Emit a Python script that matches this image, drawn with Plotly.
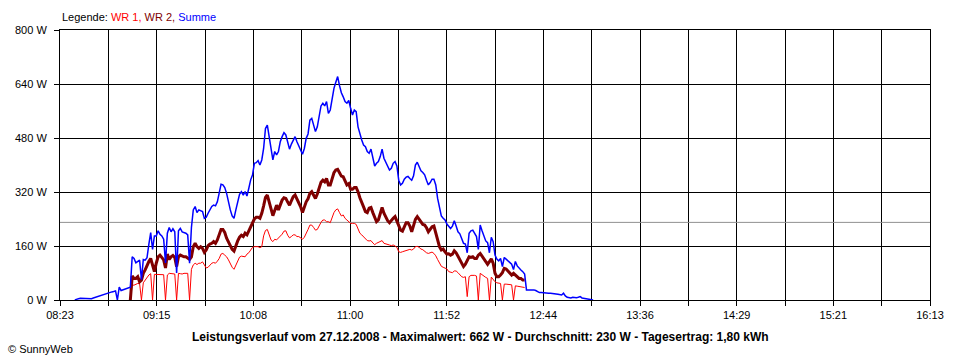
import pandas as pd
import plotly.graph_objects as go

DAY = "2008-12-27"

# Sample times (one reading per minute), 08:31 .. 13:11
times = [
    "08:31", "08:32", "08:33", "08:34", "08:35", "08:36", "08:37", "08:38", "08:39", "08:40",
    "08:41", "08:42", "08:43", "08:44", "08:45", "08:46", "08:47", "08:48", "08:49", "08:50",
    "08:51", "08:52", "08:53", "08:54", "08:55", "08:56", "08:57", "08:58", "08:59",
    "09:00", "09:01", "09:02", "09:03", "09:04", "09:05", "09:06", "09:07", "09:08", "09:09",
    "09:10", "09:11", "09:12", "09:13", "09:14", "09:15", "09:16", "09:17", "09:18", "09:19",
    "09:20", "09:21", "09:22", "09:23", "09:24", "09:25", "09:26", "09:27", "09:28", "09:29",
    "09:30", "09:31", "09:32", "09:33", "09:34", "09:35", "09:36", "09:37", "09:38", "09:39",
    "09:40", "09:41", "09:42", "09:43", "09:44", "09:45", "09:46", "09:47", "09:48", "09:49",
    "09:50", "09:51", "09:52", "09:53", "09:54", "09:55", "09:56", "09:57", "09:58", "09:59",
    "10:00", "10:01", "10:02", "10:03", "10:04", "10:05", "10:06", "10:07", "10:08", "10:09",
    "10:10", "10:11", "10:12", "10:13", "10:14", "10:15", "10:16", "10:17", "10:18", "10:19",
    "10:20", "10:21", "10:22", "10:23", "10:24", "10:25", "10:26", "10:27", "10:28", "10:29",
    "10:30", "10:31", "10:32", "10:33", "10:34", "10:35", "10:36", "10:37", "10:38", "10:39",
    "10:40", "10:41", "10:42", "10:43", "10:44", "10:45", "10:46", "10:47", "10:48", "10:49",
    "10:50", "10:51", "10:52", "10:53", "10:54", "10:55", "10:56", "10:57", "10:58", "10:59",
    "11:00", "11:01", "11:02", "11:03", "11:04", "11:05", "11:06", "11:07", "11:08", "11:09",
    "11:10", "11:11", "11:12", "11:13", "11:14", "11:15", "11:16", "11:17", "11:18", "11:19",
    "11:20", "11:21", "11:22", "11:23", "11:24", "11:25", "11:26", "11:27", "11:28", "11:29",
    "11:30", "11:31", "11:32", "11:33", "11:34", "11:35", "11:36", "11:37", "11:38", "11:39",
    "11:40", "11:41", "11:42", "11:43", "11:44", "11:45", "11:46", "11:47", "11:48", "11:49",
    "11:50", "11:51", "11:52", "11:53", "11:54", "11:55", "11:56", "11:57", "11:58", "11:59",
    "12:00", "12:01", "12:02", "12:03", "12:04", "12:05", "12:06", "12:07", "12:08", "12:09",
    "12:10", "12:11", "12:12", "12:13", "12:14", "12:15", "12:16", "12:17", "12:18", "12:19",
    "12:20", "12:21", "12:22", "12:23", "12:24", "12:25", "12:26", "12:27", "12:28", "12:29",
    "12:30", "12:31", "12:32", "12:33", "12:34", "12:35", "12:36", "12:37", "12:38", "12:39",
    "12:40", "12:41", "12:42", "12:43", "12:44", "12:45", "12:46", "12:47", "12:48", "12:49",
    "12:50", "12:51", "12:52", "12:53", "12:54", "12:55", "12:56", "12:57", "12:58", "12:59",
    "13:00", "13:01", "13:02", "13:03", "13:04", "13:05", "13:06", "13:07", "13:08", "13:09",
    "13:10", "13:11",
]

# Summe (W), 08:31 .. 13:11
summe = [
    0, 3, 4, 5, 5, 5, 4, 3, 3, 4,
    6, 8, 10, 10, 12, 14, 17, 18, 20, 22,
    24, 25, 27, 0, 38, 28, 30, 30, 33, 35,
    38, 128, 123, 110, 113, 118, 60, 120, 118, 125,
    165, 200, 150, 190, 190, 205, 195, 190, 180, 110,
    198, 215, 202, 211, 202, 80, 205, 212, 202, 200,
    198, 193, 109, 215, 267, 277, 259, 267, 264, 262,
    242, 245, 257, 267, 277, 281, 279, 291, 321, 343,
    341, 333, 316, 286, 267, 249, 242, 267, 291, 313,
    321, 311, 321, 308, 331, 356, 370, 405, 407, 413,
    400, 415, 449, 508, 518, 479, 449, 415, 440, 430,
    440, 469, 484, 496, 489, 464, 447, 462, 474, 484,
    469, 456, 447, 432, 449, 479, 492, 533, 538, 521,
    499, 513, 548, 575, 583, 575, 588, 553, 563, 594,
    627, 645, 662, 635, 614, 602, 588, 583, 591, 568,
    548, 563, 558, 513, 489, 474, 459, 454, 440, 435,
    447, 425, 397, 405, 410, 425, 447, 420, 407, 397,
    385, 390, 405, 410, 397, 355, 341, 346, 358, 364,
    366, 360, 355, 368, 400, 408, 395, 383, 378, 371,
    355, 341, 348, 358, 358, 341, 301, 272, 249, 242,
    237, 225, 220, 212, 219, 235, 219, 202, 196, 183,
    168, 166, 140, 198, 205, 207, 196, 188, 150, 222,
    205, 188, 175, 170, 140, 186, 173, 133, 121, 116,
    123, 99, 126, 121, 116, 111, 106, 90, 114, 101,
    94, 89, 84, 77, 30, 30, 32, 32, 30, 28,
    24, 22, 22, 21, 21, 20, 20, 20, 20, 19,
    18, 17, 15, 15, 20, 12, 8, 6, 6, 8,
    7, 7, 8, 10, 6, 5, 3, 2, 1, 0,
    0,
]

# WR 1 and WR 2 (W), 09:01 .. 12:34
wr_first, wr_last = "09:01", "12:34"
wr1 = [
    0, 44, 44, 47, 49, 49, 0, 51, 59, 64,
    74, 78, 0, 76, 76, 75, 74, 74, 75, 0,
    74, 79, 79, 79, 77, 0, 79, 78, 77, 79,
    79, 79, 0, 91, 104, 109, 105, 109, 109, 113,
    104, 95, 97, 104, 109, 111, 109, 115, 123, 136,
    138, 133, 128, 119, 107, 97, 91, 104, 119, 127,
    130, 128, 128, 136, 140, 148, 156, 158, 158, 158,
    155, 158, 190, 206, 209, 195, 178, 173, 180, 178,
    183, 188, 195, 204, 205, 192, 184, 188, 193, 193,
    188, 188, 183, 180, 186, 196, 209, 222, 222, 215,
    207, 209, 222, 230, 237, 237, 232, 232, 229, 244,
    259, 267, 270, 259, 249, 252, 242, 237, 232, 227,
    227, 227, 224, 210, 198, 193, 188, 183, 176, 175,
    176, 169, 164, 168, 170, 173, 176, 168, 167, 164,
    163, 161, 163, 160, 156, 143, 141, 143, 145, 148,
    148, 150, 148, 151, 158, 159, 156, 151, 149, 144,
    140, 138, 140, 142, 138, 131, 120, 111, 100, 97,
    94, 92, 84, 83, 81, 86, 86, 81, 75, 69,
    67, 69, 10, 69, 73, 74, 73, 71, 0, 79,
    75, 69, 67, 64, 0, 68, 59, 54, 51, 50,
    49, 0, 47, 47, 47, 47, 45, 0, 42, 41,
    40, 39, 39, 37,
]
wr2 = [
    0, 71, 64, 64, 69, 54, 59, 79, 89, 104,
    114, 123, 99, 84, 109, 128, 133, 126, 119, 95,
    136, 120, 128, 132, 126, 99, 128, 133, 130, 128,
    128, 125, 120, 128, 158, 168, 158, 153, 158, 153,
    141, 148, 161, 166, 168, 173, 168, 178, 193, 209,
    209, 200, 183, 173, 161, 150, 145, 163, 175, 186,
    192, 188, 198, 193, 205, 212, 225, 240, 245, 245,
    242, 257, 279, 304, 311, 288, 269, 250, 265, 281,
    267, 284, 296, 303, 301, 290, 281, 294, 306, 311,
    299, 289, 276, 259, 276, 291, 300, 316, 321, 309,
    301, 314, 336, 349, 355, 350, 360, 341, 341, 357,
    377, 385, 387, 377, 367, 365, 350, 341, 345, 328,
    328, 333, 333, 321, 303, 286, 276, 262, 259, 272,
    274, 259, 244, 232, 237, 257, 274, 257, 244, 235,
    229, 237, 242, 247, 235, 220, 207, 204, 217, 229,
    229, 219, 202, 219, 239, 247, 239, 229, 224, 222,
    214, 202, 211, 217, 219, 200, 178, 158, 148, 151,
    143, 136, 137, 133, 136, 146, 140, 130, 119, 109,
    99, 106, 117, 128, 126, 128, 123, 123, 133, 138,
    130, 121, 112, 106, 114, 122, 109, 79, 69, 69,
    74, 81, 94, 92, 86, 79, 74, 79, 74, 69,
    64, 64, 59, 59,
]

durchschnitt = 230  # W (average line)

x_labels = ["08:23", "", "09:15", "", "10:08", "", "11:00", "", "11:52", "",
            "12:44", "", "13:36", "", "14:29", "", "15:21", "", "16:13"]
x_start, x_end = "08:23", "16:13"
y_ticks = [0, 160, 320, 480, 640, 800]
y_labels = ["0 W", "160 W", "320 W", "480 W", "640 W", "800 W"]

title_text = ("Leistungsverlauf vom 27.12.2008 - Maximalwert: 662 W - "
              "Durchschnitt: 230 W - Tagesertrag: 1,80 kWh")

COL_WR1 = "#FF0000"
COL_WR2 = "#800000"
COL_SUM = "#0000FF"
FONT = "Liberation Sans, Arial, sans-serif"

t_all = pd.to_datetime([f"{DAY} {t}" for t in times])
i0, i1 = times.index(wr_first), times.index(wr_last)
t_wr = t_all[i0:i1 + 1]

t0 = pd.Timestamp(f"{DAY} {x_start}")
t1 = pd.Timestamp(f"{DAY} {x_end}")
n = len(x_labels) - 1
tickvals = [t0 + (t1 - t0) * i / n for i in range(n + 1)]

fig = go.Figure()
fig.add_trace(go.Scatter(x=[t0, t1], y=[durchschnitt, durchschnitt], mode="lines",
                         line=dict(color="#909090", width=1), hoverinfo="skip"))
fig.add_trace(go.Scatter(x=t_wr, y=wr1, mode="lines", name="WR 1",
                         line=dict(color=COL_WR1, width=1)))
fig.add_trace(go.Scatter(x=t_wr, y=wr2, mode="lines", name="WR 2",
                         line=dict(color=COL_WR2, width=3)))
fig.add_trace(go.Scatter(x=t_all, y=summe, mode="lines", name="Summe",
                         line=dict(color=COL_SUM, width=1.5)))

axis_common = dict(showgrid=True, gridcolor="black", gridwidth=1,
                   ticks="outside", ticklen=5, tickcolor="black", tickwidth=1,
                   showline=True, linecolor="black", linewidth=1, mirror=True,
                   zeroline=False, tickfont=dict(family=FONT, size=11, color="black"))

fig.update_xaxes(type="date", range=[t0, t1], tickmode="array",
                 tickvals=tickvals, ticktext=x_labels, **axis_common)
fig.update_yaxes(range=[0, 800], tickmode="array", tickvals=y_ticks,
                 ticktext=y_labels, ticklabelstandoff=5, **axis_common)

legend_html = ("Legende: "
               f"<span style='color:{COL_WR1}'>WR 1,</span> "
               f"<span style='color:{COL_WR2}'>WR 2,</span> "
               f"<span style='color:{COL_SUM}'>Summe</span>")

fig.update_layout(
    width=960, height=360,
    margin=dict(l=60, r=30, t=30, b=60),
    paper_bgcolor="white", plot_bgcolor="white",
    showlegend=False,
    font=dict(family=FONT, size=11, color="black"),
    annotations=[
        dict(text=legend_html, xref="paper", yref="paper", x=0, y=1.049,
             xanchor="left", yanchor="middle", showarrow=False,
             font=dict(family=FONT, size=11, color="black")),
        dict(text=f"<b>{title_text}</b>", xref="paper", yref="paper",
             x=0.4828, y=-0.137, xanchor="center", yanchor="middle",
             showarrow=False, font=dict(family=FONT, size=12, color="black")),
        dict(text="© SunnyWeb", xref="paper", yref="paper", x=-0.0621, y=-0.1815,
             xanchor="left", yanchor="middle", showarrow=False,
             font=dict(family=FONT, size=11, color="black")),
    ],
)

fig.write_html("out.html",
               config={"displayModeBar": False},
               post_script="document.body.style.margin='0';document.body.style.padding='0';")
